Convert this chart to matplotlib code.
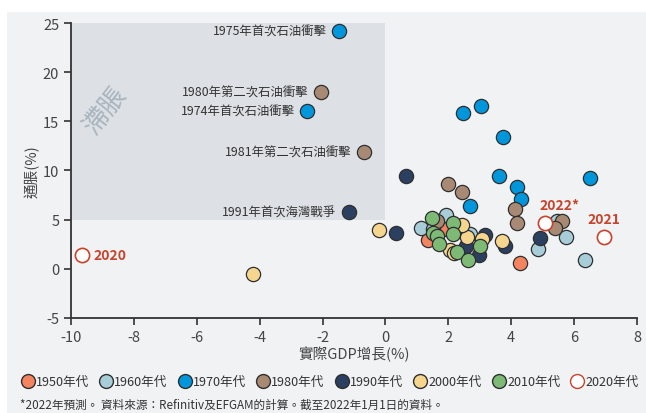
import matplotlib
matplotlib.use('Agg')
import matplotlib.pyplot as plt
from matplotlib.patches import Rectangle
from matplotlib.lines import Line2D

plt.rcParams['font.family'] = ['Noto Sans CJK TC', 'DejaVu Sans']
plt.rcParams['axes.unicode_minus'] = False

# GDP growth (x) and inflation (y) by decade, in %
gdp_1950s = [4.28, 1.74, 1.35, 1.95]
cpi_1950s = [0.55, 4.85, 2.96, 4.05]

gdp_1960s = [6.35, 5.73, 4.84, 1.13, 1.93, 1.51, 2.69, 5.45]
cpi_1960s = [0.89, 3.26, 2.00, 4.15, 5.47, 4.04, 3.54, 4.90]

gdp_1970s = [-1.48, -2.49, 2.47, 3.04, 3.74, 3.61, 4.19, 4.31, 2.69, 6.51]
cpi_1970s = [24.2, 16.05, 15.84, 16.56, 13.4, 9.44, 8.30, 7.10, 6.40, 9.23]

gdp_1980s = [-2.05, -0.68, 1.99, 2.44, 4.12, 4.19, 5.62, 5.40, 1.64]
cpi_1980s = [17.98, 11.88, 8.62, 7.80, 6.08, 4.65, 4.88, 4.15, 4.90]

gdp_1990s = [-1.16, 0.65, 0.34, 4.92, 3.17, 3.80, 2.98, 2.56]
cpi_1990s = [5.77, 9.44, 3.64, 3.10, 3.43, 2.30, 1.40, 2.30]

gdp_2000s = [-4.21, -0.21, 3.70, 2.60, 2.05, 2.17, 2.33, 3.06, 2.42]
cpi_2000s = [-0.53, 3.94, 2.85, 3.20, 1.94, 1.60, 4.33, 3.03, 4.50]

gdp_2010s = [1.47, 2.16, 1.52, 2.15, 1.63, 1.71, 2.29, 2.64, 3.01]
cpi_2010s = [5.14, 4.65, 3.60, 3.54, 3.30, 2.50, 1.67, 0.92, 2.35]

gdp_2020s = [-9.65, 6.95, 5.08]
cpi_2020s = [1.40, 3.23, 4.65]
labels_2020s = ['2020', '2021', '2022*']

decade_names = ['1950年代', '1960年代', '1970年代', '1980年代',
                '1990年代', '2000年代', '2010年代', '2020年代']
decade_colors = ['#f4845f', '#a7cdd8', '#0096db', '#a88a74',
                 '#2b3f60', '#f6d58f', '#7cba76', 'white']

# named events
event_labels = ['1975年首次石油衝擊', '1980年第二次石油衝擊', '1974年首次石油衝擊',
                '1981年第二次石油衝擊', '1991年首次海灣戰爭']
event_gdp = [-1.48, -2.05, -2.49, -0.68, -1.16]
event_cpi = [24.2, 17.98, 16.05, 11.88, 5.77]

red = '#c8432c'
edge = '#2f2f2f'

fig = plt.figure(figsize=(6.46, 4.14), dpi=100)
fig.patches.append(Rectangle((7 / 646, 0), 1, 401 / 414, transform=fig.transFigure,
                             facecolor='#f0f2f4', edgecolor='none', zorder=-10))

ax = fig.add_axes([0.110, 0.2295, 0.876, 0.7125])
ax.set_facecolor('none')

# stagflation zone
ax.add_patch(Rectangle((-10, 5), 10, 20, facecolor='#dde1e5', edgecolor='none', zorder=0))
ax.text(-8.9, 16.2, '滯脹', rotation=52, fontsize=19, color='#a9b4be',
        ha='center', va='center', zorder=1)

series = [(gdp_1950s, cpi_1950s), (gdp_1960s, cpi_1960s), (gdp_1970s, cpi_1970s),
          (gdp_1980s, cpi_1980s), (gdp_1990s, cpi_1990s), (gdp_2000s, cpi_2000s),
          (gdp_2010s, cpi_2010s)]
for (gx, cy), col in zip(series, decade_colors[:7]):
    ax.scatter(gx, cy, s=105, color=col, edgecolors=edge, linewidths=0.9, zorder=3)

ax.scatter(gdp_2020s, cpi_2020s, s=105, color='white', edgecolors=red, linewidths=1.2, zorder=4)

for lab, gx, cy in zip(event_labels, event_gdp, event_cpi):
    ax.annotate(lab, (gx, cy), xytext=(-9, 0), textcoords='offset points',
                ha='right', va='center', fontsize=8.9, color='#333333', zorder=2)

offsets = [(8, 0, 'left', 'center'), (0, 8, 'center', 'bottom'), (10, 8, 'center', 'bottom')]
for lab, gx, cy, (dx, dy, ha, va) in zip(labels_2020s, gdp_2020s, cpi_2020s, offsets):
    ax.annotate(lab, (gx, cy), xytext=(dx, dy), textcoords='offset points',
                ha=ha, va=va, fontsize=10, fontweight='bold', color=red, zorder=5)

ax.set_xlim(-10, 8)
ax.set_ylim(-5, 25)
ax.set_xticks(range(-10, 9, 2))
ax.set_yticks(range(-5, 26, 5))
for s in ['top', 'right']:
    ax.spines[s].set_visible(False)
for s in ['left', 'bottom']:
    ax.spines[s].set_color('#333333')
    ax.spines[s].set_linewidth(1.3)
ax.tick_params(direction='out', length=5, width=1.2, color='#333333',
               labelsize=10.5, labelcolor='#444444')
ax.set_xlabel('實際GDP增長(%)', fontsize=10.5, color='#444444', labelpad=1)
ax.set_ylabel('通脹(%)', fontsize=10.5, color='#444444', labelpad=2)

handles = []
for name, col in zip(decade_names, decade_colors):
    ec = red if name == '2020年代' else edge
    handles.append(Line2D([], [], marker='o', linestyle='none', markersize=10,
                          markerfacecolor=col, markeredgecolor=ec, markeredgewidth=1.0,
                          label=name))
fig.legend(handles=handles, loc='center left', bbox_to_anchor=(0.025, 0.075), ncol=8,
           frameon=False, fontsize=9.1, handletextpad=0.15, columnspacing=0.85,
           handlelength=1.0, borderaxespad=0, labelcolor='#333333')

fig.text(0.031, 0.022, '*2022年預測。 資料來源：Refinitiv及EFGAM的計算。截至2022年1月1日的資料。',
         fontsize=8.4, color='#333333', va='center')

plt.savefig('out.png', dpi=100)
plt.close()
